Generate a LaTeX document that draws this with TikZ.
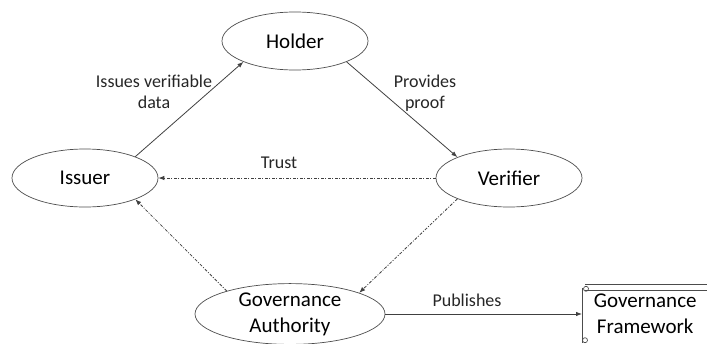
\documentclass[tikz,border=0pt]{standalone}
\usepackage{fontspec}
\setmainfont{Carlito}
\usetikzlibrary{shapes.geometric,arrows.meta}

\tikzset{
    role/.style={draw=black!70,line width=0.7pt,ellipse,minimum width=146pt,minimum height=58pt,inner sep=0pt,align=center,font=\fontsize{21}{26}\selectfont},
    flow/.style={draw=black!75,line width=0.8pt,-{Latex[length=6pt,width=4.5pt]}},
    trust/.style={flow,dash pattern=on 3pt off 1.5pt on 1pt off 1.5pt},
    tag/.style={align=center,text=black!85,font=\fontsize{18}{21.5}\selectfont},
    scroll/.style={draw=black!70,line width=0.7pt}
}

\begin{document}
\begin{tikzpicture}[x=1pt,y=-1pt]
                \useasboundingbox (0,0) rectangle (707,343);
                \clip (0,0) rectangle (707,343);
                \node[role] (holder) at (295,41) {Holder};
                \node[role] (issuer) at (85,178) {Issuer};
                \node[role] (verifier) at (509,178) {Verifier};
                \node[role,minimum width=190pt] (authority) at (290,314) {Governance\\Authority};
                \node[align=center,minimum width=126pt,minimum height=58pt,inner sep=0pt,anchor=west,font=\fontsize{21}{26}\selectfont] (framework) at (582,314) {Governance\\Framework};
                \draw[scroll] (framework.north west) ++(3,0) -- (framework.north east);
                \draw[scroll] (framework.north west) ++(3,6) -- ++(123,0);
                \draw[scroll] (framework.north west) ++(0,3) -- (framework.south west);
                \draw[scroll] (framework.north west) ++(4,4) circle (2.5);
                \draw[scroll] (framework.south west) ++(3,-3) circle (2.5);
                \node[tag] (issuestag) at (154,92) {Issues verifiable\\data};
                \node[tag] (proofstag) at (425,93) {Provides\\proof};
                \node[tag] (trusttag) at (279,163) {Trust};
                \node[tag] (publishtag) at (467,300) {Publishes};
                \draw[flow] (issuer.23) -- (holder.202);
                \draw[flow] (holder.-22) -- (verifier.158);
                \draw[trust] (verifier.west) -- (issuer.east);
                \draw[trust] (verifier.202) -- (authority.17);
                \draw[trust] (authority.160) -- (issuer.-23);
                \draw[flow] (authority.east) -- (framework.west);
\end{tikzpicture}
\end{document}
